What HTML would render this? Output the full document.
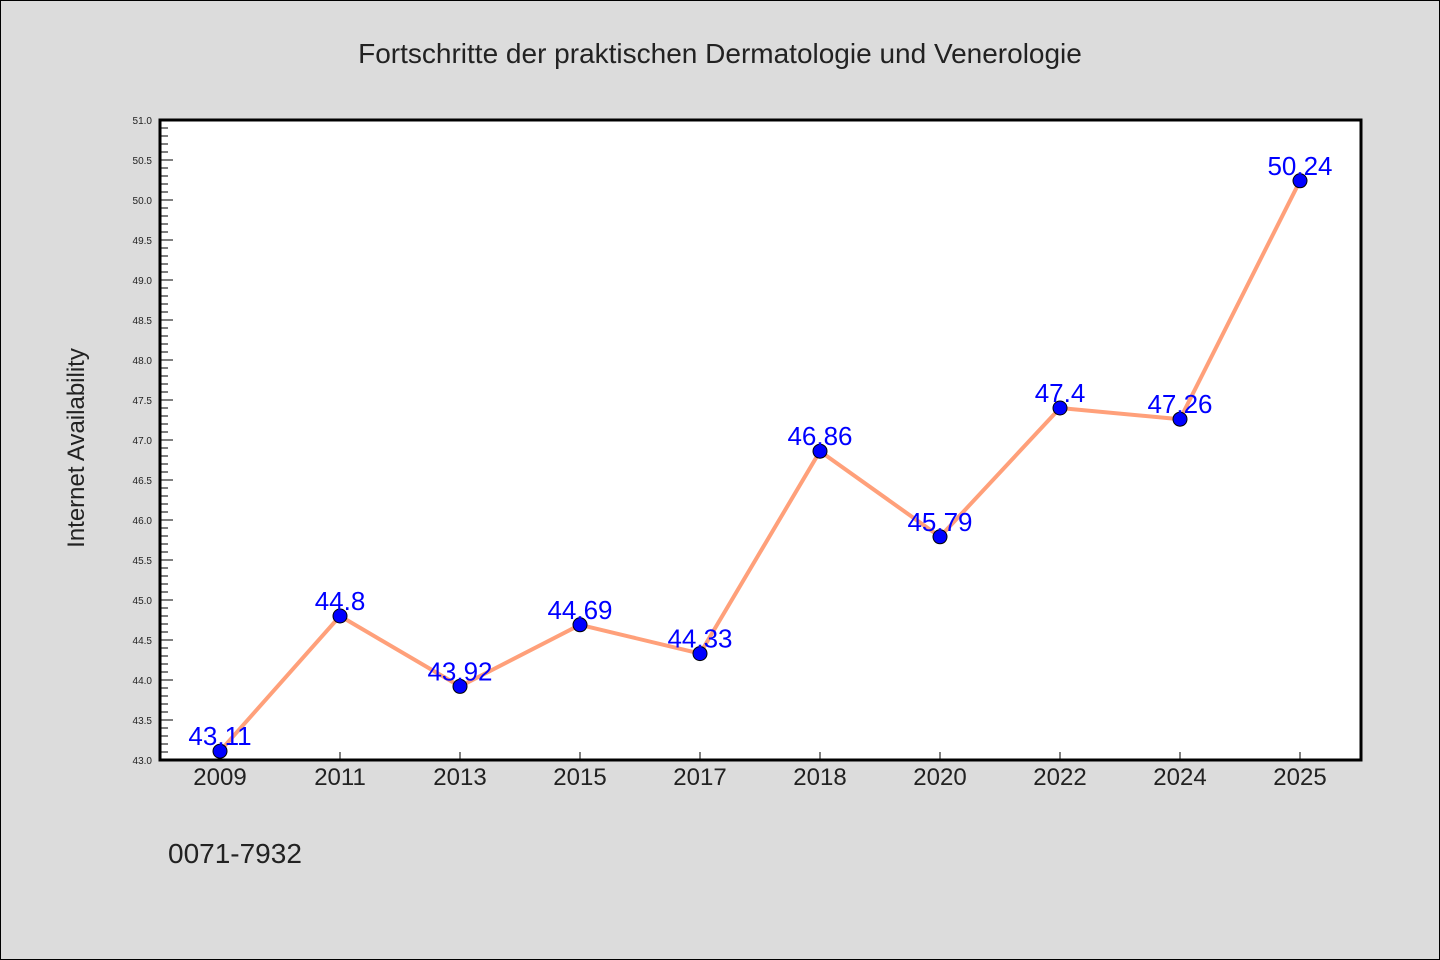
<!DOCTYPE html>
<html><head><meta charset="utf-8"><style>
body{margin:0;background:#dcdcdc;}
svg{display:block;font-family:"WenQuanYi Zen Hei","Liberation Sans",sans-serif;}
</style></head><body>
<svg id="c" width="1440" height="960">
<rect x="0.5" y="0.5" width="1439" height="959" fill="#dcdcdc" stroke="#000"/>
<text x="720" y="63" text-anchor="middle" font-size="28" fill="#222">Fortschritte der praktischen Dermatologie und Venerologie</text>
<rect x="160" y="120" width="1201" height="640" fill="#fff"/>
<text transform="translate(84,448) rotate(-90)" text-anchor="middle" font-size="24" fill="#222">Internet Availability</text>
<text x="168" y="863" font-size="28" fill="#222">0071-7932</text>
<g id="g"></g>
</svg>
<script>
const categories=["2009","2011","2013","2015","2017","2018","2020","2022","2024","2025"];
const values=[43.11,44.8,43.92,44.69,44.33,46.86,45.79,47.4,47.26,50.24];
const labels=["43.11","44.8","43.92","44.69","44.33","46.86","45.79","47.4","47.26","50.24"];
const yTicks=[43.0,43.5,44.0,44.5,45.0,45.5,46.0,46.5,47.0,47.5,48.0,48.5,49.0,49.5,50.0,50.5,51.0];
const NS="http://www.w3.org/2000/svg",g=document.getElementById('g');
const L=160,R=1361,T=120,B=760,yMin=43,yMax=51;
const y=v=>B-(v-yMin)/(yMax-yMin)*(B-T);
const x=i=>220+i*120;
function el(t,a,p){const e=document.createElementNS(NS,t);for(const k in a)e.setAttribute(k,a[k]);(p||g).appendChild(e);return e;}
for(let k=0;k<=80;k++){const v=yMin+k*0.1;const major=k%5==0;
 const t=el('line',{x1:L,x2:L+(major?13:8),y1:y(v),y2:y(v),stroke:'#000','stroke-width':1});
 }
yTicks.forEach(v=>{const t=el('text',{x:152,y:y(v)+4,'text-anchor':'end','font-size':10,fill:'#222'});t.textContent=v.toFixed(1);
 });
categories.forEach((c,i)=>{const tk=el('line',{x1:x(i),x2:x(i),y1:B,y2:B-8,stroke:'#000'});
 
 const t=el('text',{x:x(i),y:785,'text-anchor':'middle','font-size':24,fill:'#222'});t.textContent=c;
 });
const fr=el('rect',{x:L,y:T,width:R-L,height:B-T,fill:'none',stroke:'#000','stroke-width':3});

const ln=el('polyline',{points:values.map((v,i)=>x(i)+','+y(v)).join(' '),fill:'none',stroke:'#ffa07a','stroke-width':4,'stroke-linejoin':'round'});

values.forEach((v,i)=>{const p=el('circle',{cx:x(i),cy:y(v),r:7,fill:'#0000ff',stroke:'#000','stroke-width':1});
 
 const t=el('text',{x:x(i),y:y(v)-6,'text-anchor':'middle','font-size':26,fill:'#0000ff'});t.textContent=labels[i];
 });
</script>
</body></html>
